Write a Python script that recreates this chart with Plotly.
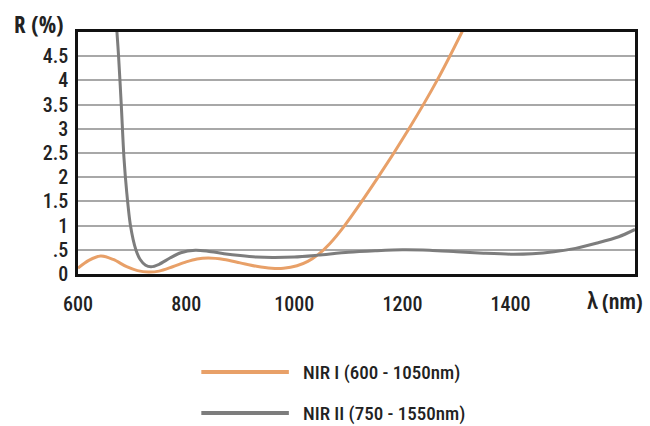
import plotly.graph_objects as go

# NIR I (600 - 1050nm) reflectance
nir1_wl = [600, 620, 642, 665, 690, 710, 730, 750, 775, 800, 820, 841, 870, 900, 930,
           958, 980, 1005, 1025, 1044, 1065, 1093, 1155, 1212, 1264, 1310, 1325]
nir1_r = [0.12, 0.28, 0.37, 0.30, 0.15, 0.07, 0.04, 0.06, 0.15, 0.25, 0.31, 0.33, 0.30,
          0.23, 0.16, 0.12, 0.12, 0.17, 0.26, 0.40, 0.62, 1.0, 2.0, 3.0, 4.0, 5.0, 5.35]

# NIR II (750 - 1550nm) reflectance
nir2_wl = [669, 672, 675, 680, 685, 690, 697, 707, 715, 725, 735, 750, 770, 790, 817,
           840, 870, 900, 930, 960, 1000, 1044, 1100, 1150, 1200, 1250, 1300, 1350, 1400,
           1440, 1480, 1520, 1560, 1600, 1630]
nir2_r = [5.4, 5.0, 4.5, 3.5, 2.4, 1.7, 1.0, 0.5, 0.3, 0.18, 0.15, 0.2, 0.33, 0.44, 0.49,
          0.47, 0.42, 0.38, 0.35, 0.34, 0.35, 0.39, 0.45, 0.48, 0.5, 0.49, 0.46, 0.43,
          0.41, 0.42, 0.46, 0.53, 0.64, 0.77, 0.92]

x_ticks = [600, 800, 1000, 1200, 1400]
y_ticks = [0, 0.5, 1, 1.5, 2, 2.5, 3, 3.5, 4, 4.5]
y_labels = ["0", ".5", "1", "1.5", "2", "2.5", "3", "3.5", "4", "4.5"]
series_names = ["NIR I (600 - 1050nm)", "NIR II (750 - 1550nm)"]
colors = ["#E8A068", "#7D7D7D"]

FONT = "Roboto Condensed, Liberation Sans Narrow, sans-serif"
BOLD = "Open Sans Condensed, Roboto Condensed, sans-serif"

# plot area in page pixels
L, R, T, B = 78, 638, 32, 274
W, H = 650, 426

fig = go.Figure()
fig.add_trace(go.Scatter(x=nir1_wl, y=nir1_r, mode="lines", name=series_names[0],
                         line=dict(color=colors[0], width=3, shape="spline", smoothing=0.9)))
fig.add_trace(go.Scatter(x=nir2_wl, y=nir2_r, mode="lines", name=series_names[1],
                         line=dict(color=colors[1], width=3, shape="spline", smoothing=0.8)))

fig.update_layout(
    width=W, height=H,
    margin=dict(l=L, r=W - R, t=T, b=H - B),
    paper_bgcolor="white", plot_bgcolor="white",
    showlegend=False,
    font=dict(family=FONT, size=20, color="#222222", weight=500),
)
fig.update_xaxes(range=[600, 1630], tickvals=x_ticks, showgrid=False, zeroline=False,
                 showline=True, linecolor="#111111", linewidth=2.5, mirror=True,
                 ticks="outside", ticklen=10, tickcolor="rgba(0,0,0,0)",
                 tickfont=dict(size=20))
fig.update_yaxes(range=[0, 5], tickvals=y_ticks, ticktext=y_labels, showgrid=True,
                 gridcolor="#A8A8A8", gridwidth=1.5, zeroline=False,
                 showline=True, linecolor="#111111", linewidth=2.5, mirror=True,
                 ticks="outside", ticklen=3, tickcolor="rgba(0,0,0,0)",
                 tickfont=dict(size=20))


def px(xp):
    return (xp - L) / (R - L)


def py(yp):
    return (B - yp) / (B - T)


# axis titles
fig.add_annotation(xref="paper", yref="paper", x=px(39), y=py(24), xanchor="center",
                   yanchor="middle", text="R (%)", showarrow=False,
                   font=dict(family=BOLD, size=23, weight="bold"))
fig.add_annotation(xref="paper", yref="paper", x=px(588), y=py(301), xanchor="left",
                   yanchor="middle", text="λ", showarrow=False,
                   font=dict(family=FONT, size=23))
fig.add_annotation(xref="paper", yref="paper", x=px(603), y=py(301), xanchor="left",
                   yanchor="middle", text="(nm)", showarrow=False,
                   font=dict(family=BOLD, size=21, weight="bold"))

# legend drawn manually
leg_y = [372, 413]
for i, name in enumerate(series_names):
    fig.add_shape(type="line", xref="paper", yref="paper",
                  x0=px(202), x1=px(290), y0=py(leg_y[i]), y1=py(leg_y[i]),
                  line=dict(color=colors[i], width=4))
    fig.add_annotation(xref="paper", yref="paper", x=px(302), y=py(leg_y[i]),
                       xanchor="left", yanchor="middle", text=name, showarrow=False,
                       font=dict(size=19))

fig.write_html("out.html", config={"displayModeBar": False},
               post_script="document.body.style.margin='0px';")
